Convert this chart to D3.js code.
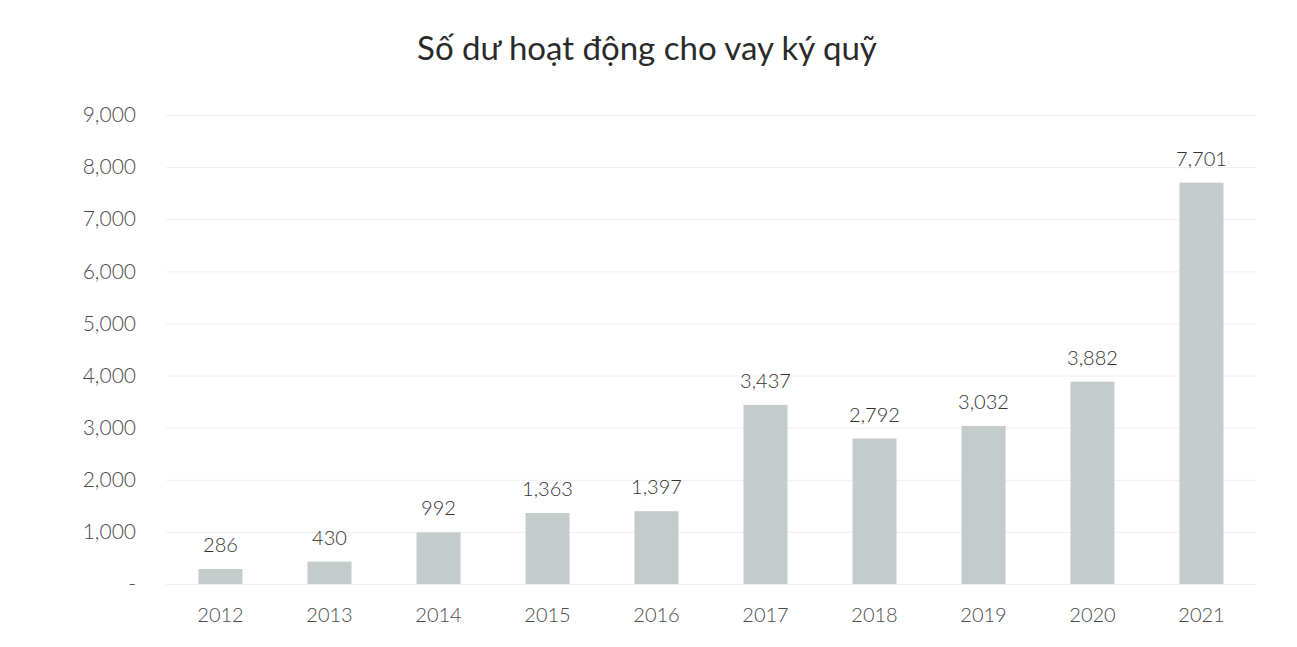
<!DOCTYPE html>
<html>
<head>
<meta charset="utf-8">
<script src="https://cdn.jsdelivr.net/npm/d3@7"></script>
<style>
  html, body { margin: 0; padding: 0; background: #fff; }
  svg { display: block; font-family: Lato, "Open Sans", sans-serif; }
</style>
</head>
<body>
<svg id="chart" width="1297" height="647"></svg>
<script>
// Margin lending balance by year
const title = "Số dư hoạt động cho vay ký quỹ";
const years = ["2012", "2013", "2014", "2015", "2016", "2017", "2018", "2019", "2020", "2021"];
const balances = [286, 430, 992, 1363, 1397, 3437, 2792, 3032, 3882, 7701];
const yTicks = [0, 1000, 2000, 3000, 4000, 5000, 6000, 7000, 8000, 9000];

const svg = d3.select("#chart");
const plot = { left: 166, right: 1256, top: 115, bottom: 584 };

const x = d3.scaleBand()
  .domain(years)
  .range([plot.left, plot.right])
  .paddingInner(0.596)
  .paddingOuter(0.298);

const y = d3.scaleLinear()
  .domain([0, 9000])
  .range([plot.bottom, plot.top]);

const fmt = d3.format(",");

// Title
svg.append("text")
  .attr("x", 647)
  .attr("y", 60)
  .attr("text-anchor", "middle")
  .attr("font-size", 33)
  .attr("font-weight", 400)
  .attr("fill", "#2a2a2a")
  .text(title);

// Horizontal gridlines
svg.append("g")
  .selectAll("line")
  .data(yTicks)
  .join("line")
  .attr("x1", plot.left)
  .attr("x2", plot.right)
  .attr("y1", d => y(d) + 0.5)
  .attr("y2", d => y(d) + 0.5)
  .attr("stroke", "#efefef")
  .attr("stroke-width", 1);

// Y axis labels (zero shown as a dash)
const yAxis = d3.axisLeft(y)
  .tickValues(yTicks)
  .tickSize(0)
  .tickPadding(0)
  .tickFormat(d => d === 0 ? "-" : fmt(d));

svg.append("g")
  .attr("transform", `translate(136,0)`)
  .call(yAxis)
  .call(g => g.select(".domain").remove())
  .call(g => g.selectAll("text")
    .attr("font-size", 21)
    .attr("font-weight", 300)
    .attr("fill", "#4a4a4a")
    .attr("font-family", "Lato, 'Open Sans', sans-serif"));

// X axis labels
const xAxis = d3.axisBottom(x).tickSize(0).tickPadding(0);
svg.append("g")
  .attr("transform", `translate(0,${plot.bottom + 24})`)
  .call(xAxis)
  .call(g => g.select(".domain").remove())
  .call(g => g.selectAll("text")
    .attr("font-size", 20)
    .attr("font-weight", 300)
    .attr("fill", "#4a4a4a")
    .attr("font-family", "Lato, 'Open Sans', sans-serif"));

// Bars
svg.append("g")
  .selectAll("rect")
  .data(years.map((yr, i) => ({ yr, v: balances[i] })))
  .join("rect")
  .attr("x", d => x(d.yr))
  .attr("width", x.bandwidth())
  .attr("y", d => y(d.v))
  .attr("height", d => y(0) - y(d.v))
  .attr("fill", "#c4cccb");

// Value labels
svg.append("g")
  .selectAll("text")
  .data(years.map((yr, i) => ({ yr, v: balances[i] })))
  .join("text")
  .attr("x", d => x(d.yr) + x.bandwidth() / 2)
  .attr("y", d => y(d.v) - 17)
  .attr("text-anchor", "middle")
  .attr("font-size", 20)
  .attr("font-weight", 300)
  .attr("fill", "#333333")
  .text(d => fmt(d.v));
</script>
</body>
</html>
